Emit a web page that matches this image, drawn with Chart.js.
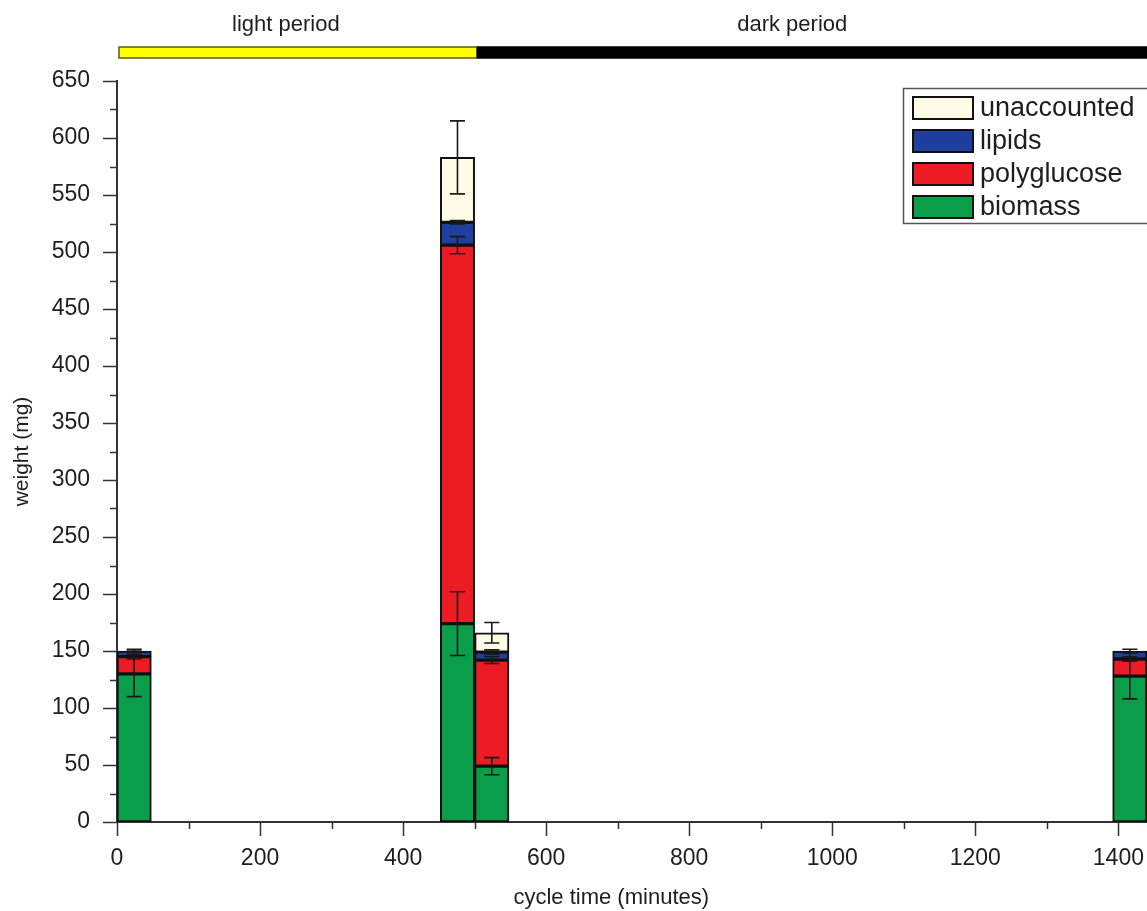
<!DOCTYPE html>
<html><head><meta charset="utf-8">
<script src="https://cdn.jsdelivr.net/npm/chart.js@4.4.0/dist/chart.umd.min.js"></script>
<style>html,body{margin:0;padding:0;background:#fff;} #wrap{width:1147px;height:911px;position:relative;}</style>
</head><body><div id="wrap"><canvas id="c"></canvas></div>
<script>
// ---- data ----
const cycleTimes = [24, 476, 524, 1416];
const seriesNames = ['biomass', 'polyglucose', 'lipids', 'unaccounted'];
const biomass = [130, 174, 49, 128];
const polyglucose = [15, 332, 93, 15];
const lipids = [5, 20, 7, 7];
const unaccounted = [null, 57, 17, null];
const biomassErr = [20, 28, 7.5, 20];
const polyglucoseErr = [2, 7.5, 3, 2];
const lipidsErr = [1.5, 1.5, 2, 1.5];
const unaccountedErr = [null, 32, 9, null];
const periodNames = ['light period', 'dark period'];
const periodStart = [0, 503];
const periodEnd = [503, 1440];
const xTickValues = [0, 100, 200, 300, 400, 500, 600, 700, 800, 900, 1000, 1100, 1200, 1300, 1400];
const xLabelStep = 200;
const yLabelStep = 50, yMinorStep = 25;

// ---- styles ----
const colors = ['#0a9e4a', '#ed1c24', '#1f3f9e', '#fffbe6'];
const TEXT = '#1e1e1e';
const FONT = '"Liberation Sans", Arial, Helvetica, sans-serif';

const values = [biomass, polyglucose, lipids, unaccounted];
const errors = [biomassErr, polyglucoseErr, lipidsErr, unaccountedErr];

const datasets = seriesNames.map((name, k) => ({
  label: name,
  data: cycleTimes.map((t, i) => ({x: t, y: values[k][i]})),
  errors: errors[k],
  backgroundColor: colors[k],
  borderColor: '#111',
  borderWidth: 2,
  borderSkipped: false,
  categoryPercentage: 1,
  barPercentage: 1
}));

const decor = {
  id: 'decor',
  afterDatasetsDraw(chart) {
    const {ctx, scales: {y}} = chart;
    ctx.save();
    ctx.strokeStyle = '#1a1a1a';
    ctx.lineWidth = 1.6;
    chart.data.datasets.forEach((ds, di) => {
      const meta = chart.getDatasetMeta(di);
      ds.errors.forEach((e, i) => {
        if (e == null || values[di][i] == null) return;
        let top = 0;
        for (let k = 0; k <= di; k++) top += (values[k][i] || 0);
        const bar = meta.data[i];
        const cx = bar.x;
        const half = bar.width * 0.22;
        const y1 = y.getPixelForValue(top + e), y2 = y.getPixelForValue(top - e);
        ctx.beginPath();
        ctx.moveTo(cx, y1); ctx.lineTo(cx, y2);
        ctx.moveTo(cx - half, y1); ctx.lineTo(cx + half, y1);
        ctx.moveTo(cx - half, y2); ctx.lineTo(cx + half, y2);
        ctx.stroke();
      });
    });
    ctx.restore();
  },
  afterDraw(chart) {
    const {ctx, scales: {x, y}} = chart;
    ctx.save();
    // tick marks
    ctx.strokeStyle = '#333';
    ctx.lineWidth = 1.5;
    ctx.beginPath();
    x.ticks.forEach(t => {
      const px = Math.round(x.getPixelForValue(t.value)) + 0.5;
      const len = (t.value % xLabelStep === 0) ? 14 : 7;
      ctx.moveTo(px, x.top); ctx.lineTo(px, x.top + len);
    });
    y.ticks.forEach(t => {
      const py = Math.round(y.getPixelForValue(t.value)) + 0.5;
      const len = (t.value % yLabelStep === 0) ? 14 : 7;
      ctx.moveTo(y.right, py); ctx.lineTo(y.right - len, py);
    });
    ctx.stroke();

    // period bars
    const bt = 47, bh = 11;
    periodNames.forEach((name, i) => {
      const x0 = x.getPixelForValue(periodStart[i]) + 2;
      const x1 = x.getPixelForValue(periodEnd[i]);
      if (i === 0) {
        ctx.fillStyle = '#ffff00';
        ctx.fillRect(x0, bt, x1 - x0, bh);
        ctx.strokeStyle = '#5e5a10';
        ctx.lineWidth = 1.5;
        ctx.strokeRect(x0, bt, x1 - x0, bh);
      } else {
        ctx.fillStyle = '#000';
        ctx.fillRect(x0 - 2, bt - 0.75, x1 - x0 + 4, bh + 1.5);
      }
    });
    ctx.fillStyle = TEXT;
    ctx.font = '22px ' + FONT;
    ctx.textAlign = 'center';
    ctx.textBaseline = 'middle';
    ctx.fillText(periodNames[0], x.getPixelForValue(236), 25);
    ctx.fillText(periodNames[1], x.getPixelForValue(944), 25);

    // x axis title
    ctx.font = '22px ' + FONT;
    ctx.fillText('cycle time (minutes)', x.getPixelForValue(691), 898);

    // legend
    const lx = 903.5, ly = 88.5, lw = 260, lh = 135;
    ctx.strokeStyle = '#555';
    ctx.lineWidth = 1.5;
    ctx.fillStyle = '#fff';
    ctx.fillRect(lx, ly, lw, lh);
    ctx.strokeRect(lx, ly, lw, lh);
    ctx.font = '27px ' + FONT;
    ctx.textAlign = 'left';
    const order = [3, 2, 1, 0];
    order.forEach((k, j) => {
      const cy = 108 + j * 33;
      ctx.fillStyle = colors[k];
      ctx.fillRect(913, cy - 11, 60, 22);
      ctx.strokeStyle = '#111';
      ctx.lineWidth = 2;
      ctx.strokeRect(913, cy - 11, 60, 22);
      ctx.fillStyle = TEXT;
      ctx.fillText(seriesNames[k], 980, cy + 1);
    });
    ctx.restore();
  }
};

new Chart(document.getElementById('c'), {
  type: 'bar',
  data: {datasets},
  options: {
    responsive: true,
    maintainAspectRatio: false,
    animation: false,
    layout: {padding: {top: 81, right: 0, left: 0, bottom: 0}},
    plugins: {legend: {display: false}, tooltip: {enabled: false}},
    scales: {
      x: {
        type: 'linear', stacked: true, min: 0, max: 1440, offset: false,
        grid: {display: false, drawTicks: false, offset: false},
        border: {display: true, color: '#333', width: 2},
        ticks: {
          autoSkip: false, maxRotation: 0, padding: 23,
          color: TEXT, font: {family: FONT, size: 23},
          callback: v => (v % xLabelStep === 0 ? String(v) : '')
        },
        afterBuildTicks: s => { s.ticks = xTickValues.map(v => ({value: v})); },
        afterFit: s => { s.height = 89; s.paddingLeft = 0; s.paddingRight = 0; }
      },
      y: {
        stacked: true, min: 0, max: 650,
        grid: {display: false, drawTicks: false},
        border: {display: true, color: '#333', width: 2},
        ticks: {
          stepSize: yMinorStep, autoSkip: false, padding: 27,
          color: TEXT, font: {family: FONT, size: 23},
          callback: v => (v % yLabelStep === 0 ? String(v) : '')
        },
        title: {display: true, text: 'weight (mg)', color: TEXT, font: {family: FONT, size: 21}, padding: {top: 10, bottom: 0}},
        afterFit: s => { s.width = 117; }
      }
    }
  },
  plugins: [decor]
});
</script>
</body></html>
